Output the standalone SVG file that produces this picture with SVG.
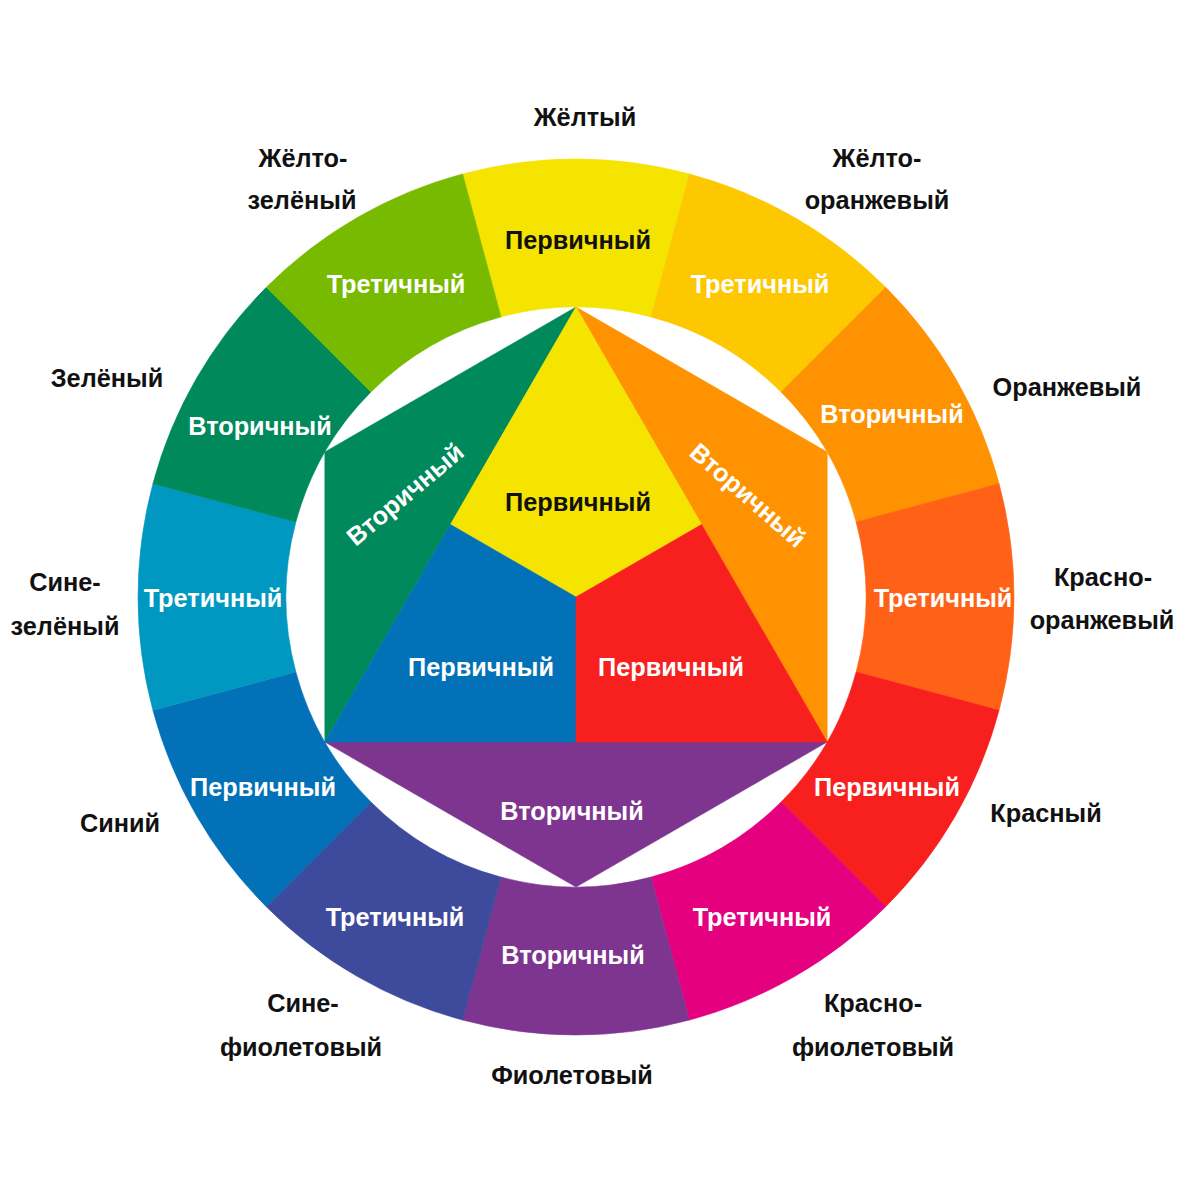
<svg xmlns="http://www.w3.org/2000/svg" width="1200" height="1200" viewBox="0 0 1200 1200">
<style>
text{font-family:"Liberation Sans",Arial,sans-serif;font-weight:bold;font-size:25.3px;text-anchor:middle}
.w{fill:#ffffff}
.b{fill:#111111}
.o{fill:#111111}
</style>
<rect width="1200" height="1200" fill="#ffffff"/>
<g id="ring">
<g id="seg-yellow"><path d="M462.64,173.92 A438,438 0 0 1 689.36,173.92 L651.06,316.88 A290,290 0 0 0 500.94,316.88 Z" fill="#F4E400" stroke="#F4E400" stroke-width="0.6"/><text class="b" x="578" y="249">Первичный</text></g>
<g id="seg-yellow-orange"><path d="M689.36,173.92 A438,438 0 0 1 885.71,287.29 L781.06,391.94 A290,290 0 0 0 651.06,316.88 Z" fill="#FDC800" stroke="#FDC800" stroke-width="0.6"/><text class="w" x="760" y="293">Третичный</text></g>
<g id="seg-orange"><path d="M885.71,287.29 A438,438 0 0 1 999.08,483.64 L856.12,521.94 A290,290 0 0 0 781.06,391.94 Z" fill="#FF9200" stroke="#FF9200" stroke-width="0.6"/><text class="w" x="892" y="423">Вторичный</text></g>
<g id="seg-red-orange"><path d="M999.08,483.64 A438,438 0 0 1 999.08,710.36 L856.12,672.06 A290,290 0 0 0 856.12,521.94 Z" fill="#FF6116" stroke="#FF6116" stroke-width="0.6"/><text class="w" x="943" y="607">Третичный</text></g>
<g id="seg-red"><path d="M999.08,710.36 A438,438 0 0 1 885.71,906.71 L781.06,802.06 A290,290 0 0 0 856.12,672.06 Z" fill="#F7201F" stroke="#F7201F" stroke-width="0.6"/><text class="w" x="887" y="796">Первичный</text></g>
<g id="seg-red-violet"><path d="M885.71,906.71 A438,438 0 0 1 689.36,1020.08 L651.06,877.12 A290,290 0 0 0 781.06,802.06 Z" fill="#E4007F" stroke="#E4007F" stroke-width="0.6"/><text class="w" x="762" y="926">Третичный</text></g>
<g id="seg-violet"><path d="M689.36,1020.08 A438,438 0 0 1 462.64,1020.08 L500.94,877.12 A290,290 0 0 0 651.06,877.12 Z" fill="#7E3590" stroke="#7E3590" stroke-width="0.6"/><text class="w" x="573" y="964">Вторичный</text></g>
<g id="seg-blue-violet"><path d="M462.64,1020.08 A438,438 0 0 1 266.29,906.71 L370.94,802.06 A290,290 0 0 0 500.94,877.12 Z" fill="#3E4A9B" stroke="#3E4A9B" stroke-width="0.6"/><text class="w" x="395" y="926">Третичный</text></g>
<g id="seg-blue"><path d="M266.29,906.71 A438,438 0 0 1 152.92,710.36 L295.88,672.06 A290,290 0 0 0 370.94,802.06 Z" fill="#0271B8" stroke="#0271B8" stroke-width="0.6"/><text class="w" x="263" y="796">Первичный</text></g>
<g id="seg-blue-green"><path d="M152.92,710.36 A438,438 0 0 1 152.92,483.64 L295.88,521.94 A290,290 0 0 0 295.88,672.06 Z" fill="#0098C1" stroke="#0098C1" stroke-width="0.6"/><text class="w" x="213" y="607">Третичный</text></g>
<g id="seg-green"><path d="M152.92,483.64 A438,438 0 0 1 266.29,287.29 L370.94,391.94 A290,290 0 0 0 295.88,521.94 Z" fill="#00895A" stroke="#00895A" stroke-width="0.6"/><text class="w" x="260" y="435">Вторичный</text></g>
<g id="seg-yellow-green"><path d="M266.29,287.29 A438,438 0 0 1 462.64,173.92 L500.94,316.88 A290,290 0 0 0 370.94,391.94 Z" fill="#77BA00" stroke="#77BA00" stroke-width="0.6"/><text class="w" x="396" y="293">Третичный</text></g>
</g>
<g id="center">
<g id="tri-green"><polygon points="576,307 324.85,452 324.85,742" fill="#00895A" stroke="#00895A" stroke-width="0.6"/><text class="w" transform="translate(405,494) rotate(-40)" y="9">Вторичный</text></g>
<g id="tri-orange"><polygon points="576,307 827.15,452 827.15,742" fill="#FF9200" stroke="#FF9200" stroke-width="0.6"/><text class="w" transform="translate(748,495) rotate(41)" y="9">Вторичный</text></g>
<g id="tri-violet"><polygon points="324.85,742 827.15,742 576,887" fill="#7E3590" stroke="#7E3590" stroke-width="0.6"/><text class="w" x="572" y="820">Вторичный</text></g>
<g id="primary-yellow"><polygon points="576,307 450.43,524.5 576,597 701.57,524.5" fill="#F4E400" stroke="#F4E400" stroke-width="0.6"/><text class="b" x="578" y="511">Первичный</text></g>
<g id="primary-blue"><polygon points="450.43,524.5 324.85,742 576,742 576,597" fill="#0271B8" stroke="#0271B8" stroke-width="0.6"/><text class="w" x="481" y="676">Первичный</text></g>
<g id="primary-red"><polygon points="701.57,524.5 827.15,742 576,742 576,597" fill="#F7201F" stroke="#F7201F" stroke-width="0.6"/><text class="w" x="671" y="676">Первичный</text></g>
</g>
<g id="outer-labels">
<text class="o" x="585" y="126">Жёлтый</text>
<text class="o" x="303" y="167">Жёлто-</text>
<text class="o" x="302" y="209">зелёный</text>
<text class="o" x="877" y="167">Жёлто-</text>
<text class="o" x="877" y="209">оранжевый</text>
<text class="o" x="107" y="387">Зелёный</text>
<text class="o" x="1067" y="396">Оранжевый</text>
<text class="o" x="65" y="591">Сине-</text>
<text class="o" x="65" y="635">зелёный</text>
<text class="o" x="1103" y="586">Красно-</text>
<text class="o" x="1102" y="629">оранжевый</text>
<text class="o" x="120" y="832">Синий</text>
<text class="o" x="1046" y="822">Красный</text>
<text class="o" x="303" y="1012">Сине-</text>
<text class="o" x="301" y="1056">фиолетовый</text>
<text class="o" x="873" y="1012">Красно-</text>
<text class="o" x="873" y="1056">фиолетовый</text>
<text class="o" x="572" y="1084">Фиолетовый</text>
</g>
</svg>
